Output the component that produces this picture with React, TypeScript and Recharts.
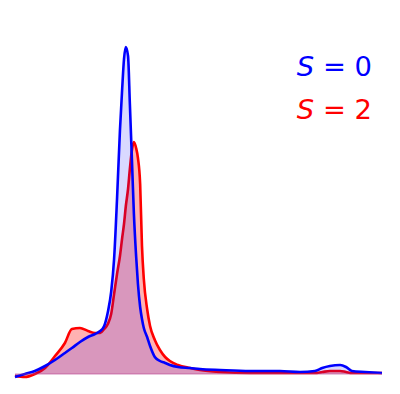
import React from "react";
import { Area, AreaChart, ReferenceLine, XAxis, YAxis } from "recharts";

// x grid (arbitrary energy units) and the two densities
const energy = [
  0, 0.27, 0.54, 0.82, 1.09, 1.36, 1.55, 1.77, 1.99, 2.18, 2.32, 2.43, 2.53, 2.62, 2.7, 2.78,
  2.86, 2.92, 2.97, 3.02, 3.08, 3.13, 3.19, 3.24, 3.3, 3.35, 3.41, 3.46, 3.51, 3.6, 3.68, 3.81,
  3.95, 4.09, 4.22, 4.44, 4.77, 5.04, 5.59, 6.4, 7.22, 7.77, 8.17, 8.37, 8.58, 8.86, 9.02, 9.18,
  9.54, 10.0,
];

const densityS0 = [
  -0.03, 0.0, 0.03, 0.08, 0.14, 0.21, 0.26, 0.32, 0.37, 0.4, 0.43, 0.48, 0.62, 0.82, 1.15, 1.75,
  2.44, 2.85, 3.15, 3.27, 3.18, 2.7, 2.1, 1.6, 1.18, 0.9, 0.67, 0.55, 0.46, 0.37, 0.28, 0.17,
  0.13, 0.11, 0.09, 0.07, 0.06, 0.05, 0.04, 0.03, 0.03, 0.02, 0.03, 0.06, 0.08, 0.09, 0.07, 0.03,
  0.02, 0.01,
];

const densityS2 = [
  -0.02, -0.03, 0.0, 0.06, 0.18, 0.31, 0.45, 0.46, 0.43, 0.41, 0.41, 0.45, 0.5, 0.6, 0.8, 1.0,
  1.18, 1.36, 1.5, 1.68, 1.85, 2.05, 2.25, 2.32, 2.26, 2.16, 1.9, 1.28, 0.95, 0.65, 0.48, 0.34,
  0.24, 0.17, 0.13, 0.09, 0.06, 0.04, 0.02, 0.01, 0.01, 0.01, 0.01, 0.02, 0.03, 0.03, 0.02, 0.01,
  0.01, 0.01,
];

const legendLabels = ["0", "2"];

const data = energy.map((e, i) => ({ e, s0: densityS0[i], s2: densityS2[i] }));

export default function App() {
  return (
    <div style={{ position: "relative", width: 392, height: 386 }}>
      <AreaChart width={392} height={386} data={data} margin={{ top: 26, right: 18, left: 7, bottom: 10 }}>
        <XAxis dataKey="e" type="number" domain={[0, 10]} hide />
        <YAxis type="number" domain={[-0.1, 3.4]} hide allowDataOverflow />
        <ReferenceLine y={0} stroke="rgba(180,60,140,0.6)" strokeWidth={1} />
        <Area
          type="monotone"
          dataKey="s2"
          stroke="#ff0000"
          strokeWidth={2.6}
          fill="#ff0000"
          fillOpacity={0.3}
          isAnimationActive={false}
          dot={false}
          activeDot={false}
        />
        <Area
          type="monotone"
          dataKey="s0"
          stroke="#0000ff"
          strokeWidth={2.6}
          fill="#0000ff"
          fillOpacity={0.15}
          isAnimationActive={false}
          dot={false}
          activeDot={false}
        />
      </AreaChart>
      <svg width={392} height={386} style={{ position: "absolute", left: 0, top: 0, pointerEvents: "none" }}>
        {legendLabels.map((v, i) => (
          <text
            key={v}
            x={364}
            y={67.5 + i * 43}
            textAnchor="end"
            fontFamily="DejaVu Sans"
            fontSize={27.4}
            fill={i === 0 ? "#0000ff" : "#ff0000"}
          >
            <tspan fontStyle="italic">S</tspan>
            {" = " + v}
          </text>
        ))}
      </svg>
    </div>
  );
}
